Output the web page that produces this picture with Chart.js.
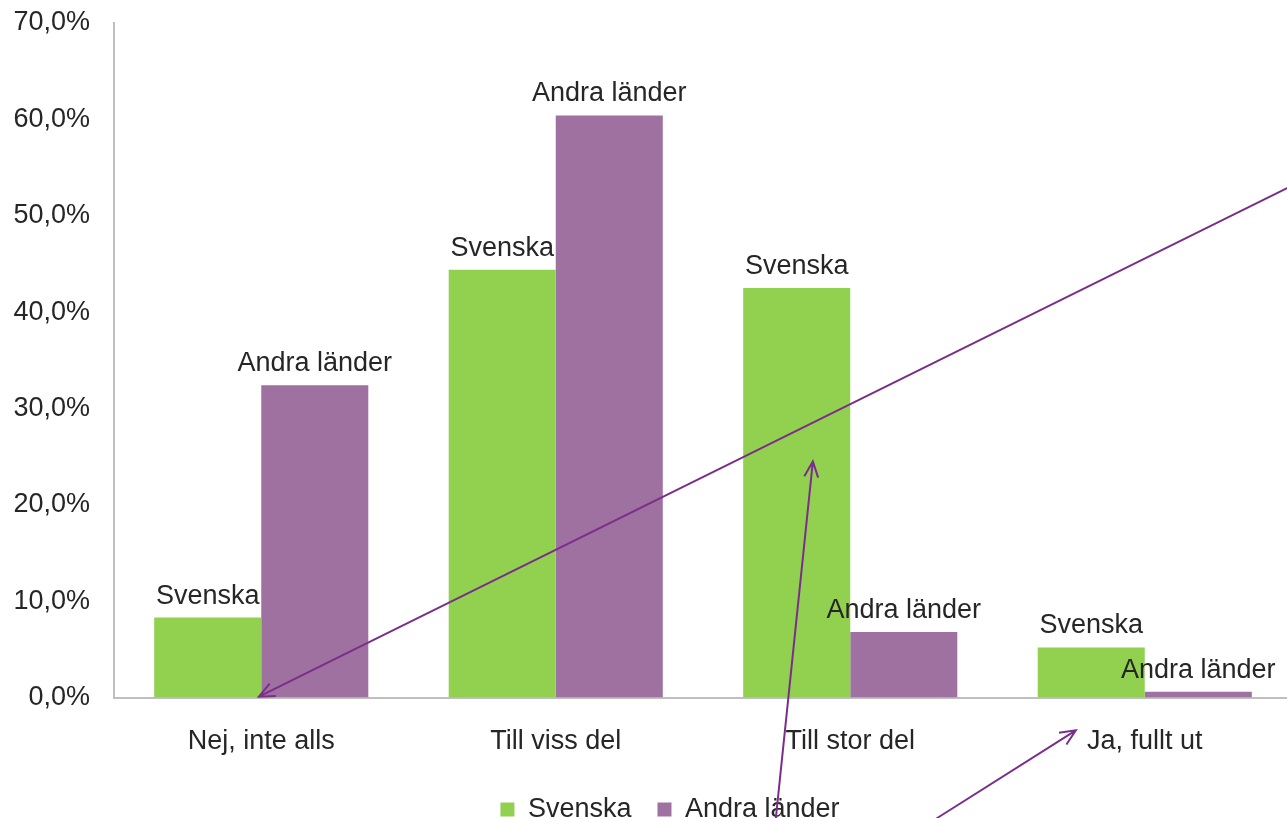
<!DOCTYPE html>
<html>
  <head>
    <meta charset="UTF-8">
    <title>Svenska och Andra länder</title>
    <script src="https://cdn.jsdelivr.net/npm/chart.js"></script>
    <style>
      html, body { margin: 0; padding: 0; overflow: hidden; background: #fff; }
      #wrap { width: 1292px; height: 833px; position: relative; }
    </style>
  </head>
  <body>
    <div id="wrap"><canvas id="chart"></canvas></div>

    <script>
      // kategorier och värden (procent)
      var categories = ['Nej, inte alls', 'Till viss del', 'Till stor del', 'Ja, fullt ut'];
      var svenska = [8.3, 44.4, 42.5, 5.2];
      var andraLander = [32.4, 60.4, 6.8, 0.6];
      var yTicks = [0, 10, 20, 30, 40, 50, 60, 70];

      // pilar som ritats ovanpå diagrammet (x = kategoriindex, y = procent)
      var arrows = [
        { from: [3.485, 52.9], to: [-0.008, 0.1] },
        { from: [1.747, -12.6], to: [1.873, 24.5] },
        { from: [2.29, -12.6], to: [2.766, -3.4] }
      ];

      var fontFamily = '"Liberation Sans", Arial, sans-serif';

      // seriens namn ovanför varje stapel
      var barLabels = {
        id: 'barLabels',
        afterDatasetsDraw: function(chart) {
          var ctx = chart.ctx;
          ctx.save();
          ctx.font = '27px ' + fontFamily;
          ctx.fillStyle = '#262626';
          ctx.textAlign = 'center';
          ctx.textBaseline = 'bottom';
          chart.data.datasets.forEach(function(ds, i) {
            chart.getDatasetMeta(i).data.forEach(function(bar) {
              ctx.fillText(ds.label, bar.x, bar.y - 8);
            });
          });
          ctx.restore();
        }
      };

      var arrowPlugin = {
        id: 'arrowPlugin',
        afterDraw: function(chart) {
          var ctx = chart.ctx;
          var xs = chart.scales.x, ys = chart.scales.y;
          ctx.save();
          ctx.strokeStyle = '#7b2d8b';
          ctx.lineWidth = 2;
          arrows.forEach(function(a) {
            var x1 = xs.getPixelForValue(a.from[0]), y1 = ys.getPixelForValue(a.from[1]);
            var x2 = xs.getPixelForValue(a.to[0]), y2 = ys.getPixelForValue(a.to[1]);
            ctx.beginPath();
            ctx.moveTo(x1, y1);
            ctx.lineTo(x2, y2);
            var ang = Math.atan2(y2 - y1, x2 - x1);
            var len = 17, spread = 0.42;
            ctx.moveTo(x2 - len * Math.cos(ang - spread), y2 - len * Math.sin(ang - spread));
            ctx.lineTo(x2, y2);
            ctx.lineTo(x2 - len * Math.cos(ang + spread), y2 - len * Math.sin(ang + spread));
            ctx.stroke();
          });
          ctx.restore();
        }
      };

      // flytta förklaringen lite åt höger
      var legendShift = {
        id: 'legendShift',
        afterLayout: function(chart) {
          if (chart.legend) {
            chart.legend.left += 24;
            chart.legend.right += 24;
          }
        }
      };

      var ctx = document.getElementById('chart').getContext('2d');
      var chart = new Chart(ctx, {
        type: 'bar',
        data: {
          labels: categories,
          datasets: [
            { label: 'Svenska', data: svenska, backgroundColor: '#92d050' },
            { label: 'Andra länder', data: andraLander, backgroundColor: '#9e71a0' }
          ]
        },
        options: {
          responsive: true,
          maintainAspectRatio: false,
          animation: false,
          categoryPercentage: 0.727,
          barPercentage: 1,
          layout: { padding: 0 },
          plugins: {
            legend: {
              position: 'bottom',
              labels: {
                boxWidth: 14,
                boxHeight: 14,
                color: '#262626',
                font: { size: 27, family: fontFamily },
                padding: 26
              }
            },
            tooltip: { enabled: false }
          },
          scales: {
            x: {
              grid: { display: false, drawTicks: false },
              border: { color: '#bfbfbf', width: 2 },
              ticks: { color: '#262626', font: { size: 27, family: fontFamily }, padding: 28 },
              afterFit: function(axis) {
                axis.height -= 16;
              }
            },
            y: {
              min: 0,
              max: 70,
              afterBuildTicks: function(axis) {
                axis.ticks = yTicks.map(function(v) { return { value: v }; });
              },
              afterFit: function(axis) {
                axis.width = 114;
                axis.paddingTop = 23;
                axis.paddingBottom = 0;
              },
              grid: { display: false, drawTicks: false },
              border: { color: '#bfbfbf', width: 2 },
              ticks: {
                color: '#262626',
                font: { size: 27, family: fontFamily },
                padding: 24,
                callback: function(v) { return v.toFixed(1).replace('.', ',') + '%'; }
              }
            }
          }
        },
        plugins: [barLabels, arrowPlugin, legendShift]
      });
    </script>
  </body>
</html>
